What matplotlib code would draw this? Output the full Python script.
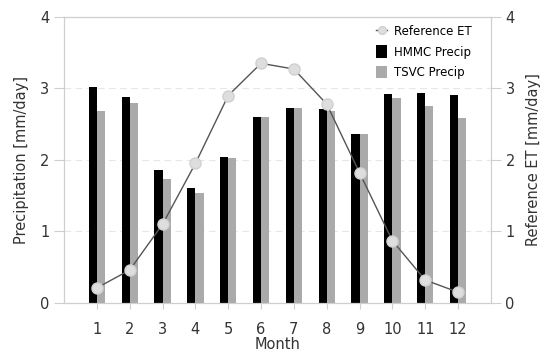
import numpy as np
import matplotlib
matplotlib.use('Agg')
import matplotlib.pyplot as plt

months = list(range(1, 13))
hmmc_precip = [3.02, 2.88, 1.86, 1.60, 2.04, 2.60, 2.72, 2.71, 2.36, 2.92, 2.93, 2.91]
tsvc_precip = [2.68, 2.79, 1.73, 1.53, 2.03, 2.60, 2.72, 2.69, 2.36, 2.86, 2.75, 2.59]
reference_et = [0.21, 0.46, 1.10, 1.95, 2.90, 3.35, 3.27, 2.78, 1.82, 0.87, 0.32, 0.15]

plt.rcParams['font.family'] = ['DejaVu Sans']
spine_col = '#cfcfcf'
text_col = '#333333'

fig = plt.figure(figsize=(5.43, 3.51), dpi=100)
ax = fig.add_axes([0.118, 0.137, 0.786, 0.815])
ax2 = ax.twinx()

x = np.array(months)
w = 0.25
b1 = ax.bar(x - w / 2, hmmc_precip, width=w, color='black', label='HMMC Precip', zorder=2)
b2 = ax.bar(x + w / 2, tsvc_precip, width=w, color='#aaaaaa', label='TSVC Precip', zorder=2)
l1, = ax2.plot(x, reference_et, color='#555555', lw=1.0, marker='o', markersize=8,
               markerfacecolor='#dedede', markeredgecolor='#d0d0d0', label='Reference ET')

for a in (ax, ax2):
    a.set_ylim(0, 4)
    a.set_yticks([0, 1, 2, 3, 4])
    for s in a.spines.values():
        s.set_color(spine_col)
    a.tick_params(colors=spine_col, labelcolor=text_col, labelsize=10.5, length=7)
ax.set_xlim(0, 13)
ax.set_xticks(months)
ax.tick_params(axis='x', length=4, pad=10)
ax.grid(axis='y', color='#e6e6e6', linestyle=(0, (6, 4)), lw=0.8, zorder=0)

ax.set_xlabel('Month', fontsize=10.5, color=text_col, labelpad=0)
ax.set_ylabel('Precipitation [mm/day]', fontsize=10.5, color=text_col, labelpad=8)
ax2.set_ylabel('Reference ET [mm/day]', fontsize=10.5, color=text_col, labelpad=8)

ax2.legend([l1, b1, b2], ['Reference ET', 'HMMC Precip', 'TSVC Precip'],
           loc='upper right', frameon=False, fontsize=8.5, handlelength=0.9,
           handleheight=1.25, markerscale=0.7,
           handletextpad=0.6, labelspacing=0.6, borderaxespad=0.3,
           bbox_to_anchor=(0.975, 1.0))

fig.savefig('out.png', dpi=100)
